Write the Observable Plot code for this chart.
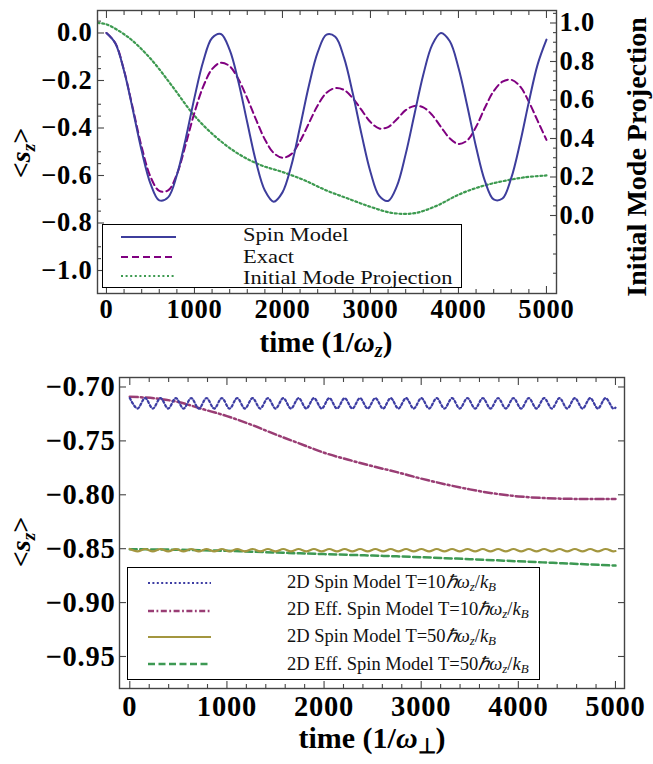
<!DOCTYPE html>
<html><head><meta charset="utf-8">
<script src="https://cdn.jsdelivr.net/npm/d3@7"></script>
<script src="https://cdn.jsdelivr.net/npm/@observablehq/plot@0.6"></script>
<style>
body{margin:0;background:#fff;}
#wrap{position:relative;width:653px;height:764px;overflow:hidden;font-family:"Liberation Serif","Times New Roman",serif;background:#fff;}
.panel{position:absolute;left:0;width:653px;}
.lbl{position:absolute;white-space:nowrap;line-height:1;font-weight:bold;color:#000;}
.rot{transform:translate(-50%,-50%) rotate(-90deg);}
.hc{transform:translateX(-50%);}
.leg{position:absolute;border:1px solid #000;background:#fff;box-sizing:border-box;}
.lt{position:absolute;white-space:nowrap;color:#111;transform-origin:0 50%;}
.sw{position:absolute;overflow:visible;}
sub{font-size:70%;vertical-align:-0.25em;line-height:0;}
</style></head>
<body><div id="wrap"></div>
<script>
// ---------------- Top panel data ----------------
const tTop = [0,100,200,300,400,500,600,700,800,900,1000,1100,1200,1300,1400,1500,1600,1700,1800,1900,2000,
  2100,2200,2300,2400,2500,2600,2700,2800,2900,3000,3100,3200,3300,3400,3500,3600,3700,3800,3900,4000,
  4100,4200,4300,4400,4500,4600,4700,4800,4900,5000];
const spinModel = [0,-0.043,-0.160,-0.324,-0.496,-0.634,-0.705,-0.692,-0.598,-0.446,-0.272,-0.119,-0.021,-0.004,
  -0.071,-0.206,-0.377,-0.543,-0.663,-0.710,-0.671,-0.559,-0.395,-0.222,-0.082,-0.007,-0.016,-0.105,-0.256,-0.429,
  -0.585,-0.686,-0.707,-0.645,-0.510,-0.342,-0.176,-0.051,0.000,-0.034,-0.146,-0.307,-0.480,-0.623,-0.701,-0.697,
  -0.610,-0.463,-0.290,-0.132,-0.028];
const exact = [0,-0.042,-0.158,-0.318,-0.480,-0.605,-0.665,-0.663,-0.595,-0.470,-0.335,-0.225,-0.152,-0.125,
  -0.140,-0.195,-0.275,-0.365,-0.448,-0.505,-0.525,-0.510,-0.455,-0.380,-0.305,-0.252,-0.232,-0.240,-0.275,-0.325,
  -0.375,-0.402,-0.396,-0.363,-0.325,-0.307,-0.313,-0.345,-0.395,-0.443,-0.467,-0.452,-0.395,-0.315,-0.245,-0.205,
  -0.197,-0.225,-0.290,-0.370,-0.450];
const tProj = [-100,0,250,500,750,1000,1250,1500,1750,2000,2250,2500,2750,3000,3250,3500,3750,4000,4250,4500,4750,5000];
const modeProjection = [1.0,0.993,0.925,0.815,0.670,0.518,0.405,0.320,0.262,0.226,0.183,0.130,0.087,0.045,0.013,
  0.012,0.050,0.108,0.150,0.178,0.198,0.208];

const topXTicks = [0,1000,2000,3000,4000,5000];
const topXLabels = ["0","1000","2000","3000","4000","5000"];
const topYTicks = [0,-0.2,-0.4,-0.6,-0.8,-1.0];
const topYLabels = ["0.0","\u22120.2","\u22120.4","\u22120.6","\u22120.8","\u22121.0"];
const rightTicks = [0,0.2,0.4,0.6,0.8,1.0];
const rightLabels = ["0.0","0.2","0.4","0.6","0.8","1.0"];

// ---------------- Bottom panel data ----------------
const tOsc = [0,79,158,237,316,395,474,553,632,711,790,869,948,1027,1106,1185,1264,1343,1422,1501,1580,1659,
  1738,1817,1896,1975,2054,2133,2212,2291,2370,2449,2528,2607,2686,2765,2844,2923,3002,3081,3160,3239,3318,3397,
  3476,3555,3634,3713,3792,3871,3950,4029,4108,4187,4266,4345,4424,4503,4582,4661,4740,4819,4898,4977,5000];
const spin2D_T10 = [-0.7103,-0.7200,-0.7103,-0.7200,-0.7103,-0.7200,-0.7103,-0.7200,-0.7103,-0.7200,-0.7103,-0.7200,
  -0.7103,-0.7200,-0.7103,-0.7200,-0.7103,-0.7200,-0.7103,-0.7200,-0.7103,-0.7200,-0.7103,-0.7200,-0.7103,-0.7200,
  -0.7103,-0.7200,-0.7103,-0.7200,-0.7103,-0.7200,-0.7103,-0.7200,-0.7103,-0.7200,-0.7103,-0.7200,-0.7103,-0.7200,
  -0.7103,-0.7200,-0.7103,-0.7200,-0.7103,-0.7200,-0.7103,-0.7200,-0.7103,-0.7200,-0.7103,-0.7200,-0.7103,-0.7200,
  -0.7103,-0.7200,-0.7103,-0.7200,-0.7103,-0.7200,-0.7103,-0.7200,-0.7103,-0.7200,-0.7192];
const spin2D_T50 = [-0.8503,-0.8525,-0.8503,-0.8525,-0.8503,-0.8525,-0.8503,-0.8525,-0.8503,-0.8525,-0.8503,-0.8525,
  -0.8503,-0.8525,-0.8503,-0.8525,-0.8503,-0.8525,-0.8503,-0.8525,-0.8503,-0.8525,-0.8503,-0.8525,-0.8503,-0.8525,
  -0.8503,-0.8525,-0.8503,-0.8525,-0.8503,-0.8525,-0.8503,-0.8525,-0.8503,-0.8525,-0.8503,-0.8525,-0.8503,-0.8525,
  -0.8503,-0.8525,-0.8503,-0.8525,-0.8503,-0.8525,-0.8503,-0.8525,-0.8503,-0.8525,-0.8503,-0.8525,-0.8503,-0.8525,
  -0.8503,-0.8525,-0.8503,-0.8525,-0.8503,-0.8525,-0.8503,-0.8525,-0.8503,-0.8525,-0.8522];
const tEff = [0,250,500,750,1000,1250,1500,1750,2000,2250,2500,2750,3000,3250,3500,3750,4000,4250,4500,4750,5000];
const eff2D_T10 = [-0.709,-0.7105,-0.714,-0.7205,-0.727,-0.735,-0.744,-0.7525,-0.761,-0.7675,-0.7735,-0.779,-0.785,
  -0.7903,-0.795,-0.7988,-0.8015,-0.803,-0.8037,-0.804,-0.804];
const eff2D_T50 = [-0.8505,-0.8507,-0.851,-0.8515,-0.852,-0.8528,-0.8535,-0.8543,-0.855,-0.8557,-0.8564,-0.8571,
  -0.8579,-0.8588,-0.8597,-0.8607,-0.8617,-0.8627,-0.8637,-0.8647,-0.8657];

const botXTicks = [0,1000,2000,3000,4000,5000];
const botXLabels = ["0","1000","2000","3000","4000","5000"];
const botYTicks = [-0.70,-0.75,-0.80,-0.85,-0.90,-0.95];
const botYLabels = ["\u22120.70","\u22120.75","\u22120.80","\u22120.85","\u22120.90","\u22120.95"];

// ---------------- helpers ----------------
const rows = (xs, ys) => xs.map((x, i) => ({x, y: ys[i]}));
const between = (a, b, step, skipEvery) => {
  const out = [];
  const n = Math.round((b - a) / step);
  for (let i = 0; i <= n; i++) { if (i % skipEvery !== 0) out.push(+(a + i * step).toFixed(6)); }
  return out;
};
const frameCol = "#444";
function tickAxes(xMaj, xMin, yMaj, yMin, yRMaj, yRMin) {
  const c = {stroke: frameCol, strokeWidth: 1.1, fill: "none", label: null};
  return [
    Plot.axisX({...c, anchor: "bottom", ticks: xMaj, tickSize: -7}),
    Plot.axisX({...c, anchor: "bottom", ticks: xMin, tickSize: -4}),
    Plot.axisX({...c, anchor: "top", ticks: xMaj, tickSize: -7}),
    Plot.axisX({...c, anchor: "top", ticks: xMin, tickSize: -4}),
    Plot.axisY({...c, anchor: "left", ticks: yMaj, tickSize: -7}),
    Plot.axisY({...c, anchor: "left", ticks: yMin, tickSize: -4}),
    Plot.axisY({...c, anchor: "right", ticks: yRMaj, tickSize: -7}),
    Plot.axisY({...c, anchor: "right", ticks: yRMin, tickSize: -4})
  ];
}
const lookup = (vals, labels) => { const m = new Map(vals.map((v, i) => [v, labels[i]])); return d => m.get(d) ?? ""; };
const font = "'Liberation Serif','Times New Roman',serif";
const notOn = (k) => v => Math.abs(v * k - Math.round(v * k)) > 1e-6;

// right axis of top panel: linear correspondence with the left scale
const R0 = -0.7684, R1 = 0.0421;
const toLeft = r => R0 + (R1 - R0) * r;
const rightTickPos = rightTicks.map(toLeft);
const rightMinorPos = [-0.3,-0.2,-0.1,0.05,0.1,0.15,0.25,0.3,0.35,0.45,0.5,0.55,0.65,0.7,0.75,0.85,0.9,0.95,1.05].map(toLeft);

const topPlot = Plot.plot({
  width: 653, height: 360,
  marginLeft: 97, marginRight: 97, marginTop: 10, marginBottom: 67,
  x: {domain: [-102, 5114], label: null},
  y: {domain: [-1.0968, 0.0947], label: null},
  style: {fontFamily: font, fontSize: "26.5px", fontWeight: "bold", letterSpacing: "0.8px", color: "#000", background: "transparent", overflow: "visible"},
  marks: [
    Plot.line(rows(tProj, modeProjection.map(toLeft)), {x: "x", y: "y", stroke: "#3d9a50", strokeWidth: 2.2, strokeDasharray: "2,2.6", curve: "catmull-rom", clip: true}),
    Plot.line(rows(tTop, exact), {x: "x", y: "y", stroke: "#800080", strokeWidth: 2, strokeDasharray: "7,4", curve: "catmull-rom", clip: true}),
    Plot.line(rows(tTop, spinModel), {x: "x", y: "y", stroke: "#3d3d9c", strokeWidth: 2, curve: "catmull-rom", clip: true}),
    Plot.frame({stroke: frameCol, strokeWidth: 1.4}),
    ...tickAxes(topXTicks, between(0, 5000, 200, 5), topYTicks, between(-1.05, 0.05, 0.05, 4).filter(notOn(5)), rightTickPos, rightMinorPos),
    Plot.axisX({anchor: "bottom", ticks: topXTicks, tickSize: 0, tickPadding: 6, tickFormat: lookup(topXTicks, topXLabels), label: null, fontSize: 26.5}),
    Plot.axisY({anchor: "left", ticks: topYTicks, tickSize: 0, tickPadding: 5, tickFormat: lookup(topYTicks, topYLabels), label: null, fontSize: 26.5}),
    Plot.axisY({anchor: "right", ticks: rightTickPos, tickSize: 0, tickPadding: 3, tickFormat: lookup(rightTickPos, rightLabels), label: null, fontSize: 26.5})
  ]
});

const botPlot = Plot.plot({
  width: 653, height: 404,
  marginLeft: 119, marginRight: 29, marginTop: 17, marginBottom: 76,
  x: {domain: [-106, 5093], label: null},
  y: {domain: [-0.9797, -0.6912], label: null},
  style: {fontFamily: font, fontSize: "28.5px", fontWeight: "bold", letterSpacing: "0.8px", color: "#000", background: "transparent", overflow: "visible"},
  marks: [
    Plot.line(rows(tEff, eff2D_T50), {x: "x", y: "y", stroke: "#3d9953", strokeWidth: 2.5, strokeDasharray: "7,3.5", curve: "catmull-rom", clip: true}),
    Plot.line(rows(tOsc, spin2D_T50), {x: "x", y: "y", stroke: "#a3963f", strokeWidth: 2.2, curve: "catmull-rom", clip: true}),
    Plot.line(rows(tEff, eff2D_T10), {x: "x", y: "y", stroke: "#993d74", strokeWidth: 2.5, strokeDasharray: "8,3,2,3", curve: "catmull-rom", clip: true}),
    Plot.line(rows(tOsc, spin2D_T10), {x: "x", y: "y", stroke: "#3d3da3", strokeWidth: 2.2, strokeDasharray: "2,2.4", curve: "catmull-rom", clip: true}),
    Plot.frame({stroke: frameCol, strokeWidth: 1.4}),
    ...tickAxes(botXTicks, between(0, 5000, 200, 5), botYTicks, between(-0.97, -0.70, 0.01, 1).filter(notOn(20)), botYTicks, between(-0.97, -0.70, 0.01, 1).filter(notOn(20))),
    Plot.axisX({anchor: "bottom", ticks: botXTicks, tickSize: 0, tickPadding: 7, tickFormat: lookup(botXTicks, botXLabels), label: null, fontSize: 28.5}),
    Plot.axisY({anchor: "left", ticks: botYTicks, tickSize: 0, tickPadding: 4, tickFormat: lookup(botYTicks, botYLabels), label: null, fontSize: 28.5})
  ]
});

const wrap = document.getElementById("wrap");
function addPanel(node, top) {
  const d = document.createElement("div");
  d.className = "panel"; d.style.top = top + "px";
  d.appendChild(node); wrap.appendChild(d);
}
addPanel(topPlot, 0);
addPanel(botPlot, 360);

function addHTML(html) { wrap.insertAdjacentHTML("beforeend", html); }

// axis titles
addHTML(`<div class="lbl rot" style="left:21px;top:153px;font-size:28px">&lt;<i>s</i><sub><i>z</i></sub>&gt;</div>`);
addHTML(`<div class="lbl rot" style="left:636.5px;top:157px;font-size:28px">Initial Mode Projection</div>`);
addHTML(`<div class="lbl hc" style="left:326px;top:${(352 - 0.8375 * 29).toFixed(1)}px;font-size:29px">time (1/<i>ω</i><sub><i>z</i></sub>)</div>`);
addHTML(`<div class="lbl rot" style="left:21px;top:542px;font-size:28px">&lt;<i>s</i><sub><i>z</i></sub>&gt;</div>`);
addHTML(`<div class="lbl hc" style="left:372px;top:${(748 - 0.8375 * 30).toFixed(1)}px;font-size:30px">time (1/<i>ω</i><sub>⊥</sub>)</div>`);

// legends
const topLegend = [
  {label: "Spin Model", color: "#3d3d9c", dash: "", w: 2},
  {label: "Exact", color: "#800080", dash: "7,4", w: 2},
  {label: "Initial Mode Projection", color: "#3d9a50", dash: "2,2.6", w: 2.2}
];
const botLegend = [
  {label: "2D Spin Model T=10<i>ℏω</i><sub><i>z</i></sub>/<i>k</i><sub><i>B</i></sub>", color: "#3d3da3", dash: "2,2.4", w: 2.2},
  {label: "2D Eff. Spin Model T=10<i>ℏω</i><sub><i>z</i></sub>/<i>k</i><sub><i>B</i></sub>", color: "#993d74", dash: "6,2.5,1.8,2.5", w: 2.5},
  {label: "2D Spin Model T=50<i>ℏω</i><sub><i>z</i></sub>/<i>k</i><sub><i>B</i></sub>", color: "#a3963f", dash: "", w: 2.2},
  {label: "2D Eff. Spin Model T=50<i>ℏω</i><sub><i>z</i></sub>/<i>k</i><sub><i>B</i></sub>", color: "#3d9953", dash: "7,3.5", w: 2.5}
];
// baseline offset of a line box of height lh for Liberation Serif (ascent .891, descent .216)
const baseOff = (fs, lh) => (lh - 1.107 * fs) / 2 + 0.891 * fs;
function legend(items, box, sw, textX, lineY, baseY, fs, sx) {
  const lh = +(1.107 * fs).toFixed(2);
  addHTML(`<div class="leg" style="left:${box[0]}px;top:${box[1]}px;width:${box[2]-box[0]}px;height:${box[3]-box[1]}px"></div>`);
  items.forEach((it, i) => {
    addHTML(`<svg class="sw" style="left:${sw[0]}px;top:${lineY[i]-3}px" width="${sw[1]-sw[0]}" height="6"><line x1="0" x2="${sw[1]-sw[0]}" y1="3" y2="3" stroke="${it.color}" stroke-width="${it.w}" stroke-dasharray="${it.dash}"/></svg>`);
    addHTML(`<div class="lt" style="left:${textX}px;top:${(baseY[i]-baseOff(fs, lh)).toFixed(1)}px;font-size:${fs}px;line-height:${lh}px;height:${lh}px;transform:scaleX(${sx})">${it.label}</div>`);
  });
}
legend(topLegend, [102, 224, 462, 288], [121, 176], 243, [236.7, 256.7, 276], [241.3, 262.6, 283.9], 19.2, 1.17);
legend(botLegend, [127, 567, 540, 680], [148, 211], 287, [583.3, 610.7, 637.3, 664.3], [588, 615.7, 642.7, 670], 18.5, 1);
</script>
</body></html>
